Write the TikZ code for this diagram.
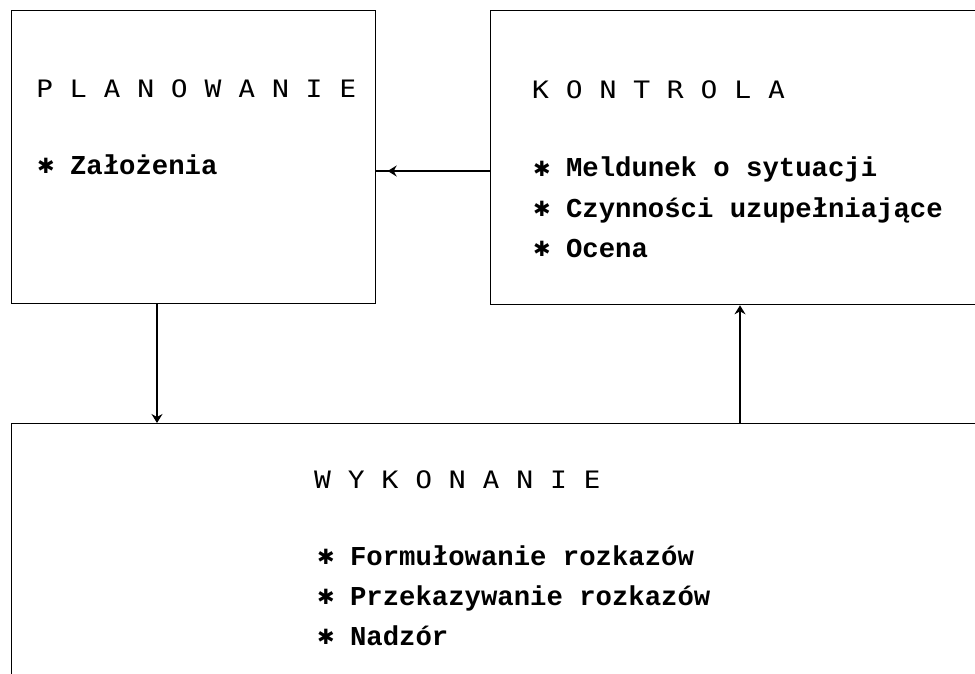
\documentclass[tikz,border=0pt]{standalone}
\usepackage{fontspec}
\usetikzlibrary{arrows.meta,decorations.markings}
\newfontfamily\itemfont{Liberation Mono}
\newfontfamily\titlefont{DejaVu Sans Mono}[FakeStretch=1.166]
\newfontfamily\starfont{DejaVu Sans}
\newcommand{\bul}{\makebox[32.8pt][l]{\raisebox{1pt}{\starfont\bfseries\fontsize{21}{21}\selectfont ✱}}}
\tikzset{
  box/.style={draw, line width=1.3pt, inner sep=0pt, anchor=north west},
  conn/.style={line width=1.2pt},
  tipstyle/.style={-{Stealth[length=9pt,width=11pt,inset=3pt]}},
  arr/.style={conn, tipstyle},
  ttl/.style={anchor=base west, inner sep=0pt, font=\titlefont\fontsize{24}{24}\selectfont},
  itm/.style={anchor=base west, inner sep=0pt, font=\itemfont\bfseries\fontsize{27.3}{28}\selectfont},
}
\begin{document}
\begin{tikzpicture}[x=1pt,y=-1pt]
\useasboundingbox (0,0) rectangle (975,674);
\clip (0,0) rectangle (975,674);
\fill[white] (0,0) rectangle (975,674);
\node[box, minimum width=364pt, minimum height=293pt] (plan) at (11,10) {};
\node[box, minimum width=500pt, minimum height=294pt] (kont) at (490,10) {};
\node[box, minimum width=990pt, minimum height=290pt] (wyk) at (11,423) {};
\coordinate (dx) at (157,0);
\coordinate (ux) at (740,0);
\coordinate (ly) at (0,171);
\draw[arr] (plan.south -| dx) -- (wyk.north -| dx);
\draw[arr] (wyk.north -| ux) -- (kont.south -| ux);
\draw[conn, postaction={decorate}, decoration={markings, mark=at position 0.9 with {\arrow{Stealth[length=9pt,width=11pt,inset=3pt]}}}] (kont.west |- ly) -- (plan.east |- ly);
\node[ttl] (tp) at (36,98) {P L A N O W A N I E};
\node[itm] (ip1) at (37,175) {\bul Założenia};
\node[ttl] (tk) at (532,99) {K O N T R O L A};
\node[itm] (ik1) at (533,177) {\bul Meldunek o sytuacji};
\node[itm] (ik2) at (533,217) {\bul Czynności uzupełniające};
\node[itm] (ik3) at (533,257) {\bul Ocena};
\node[ttl] (tw) at (314,488) {W Y K O N A N I E};
\node[itm] (iw1) at (317,565) {\bul Formułowanie rozkazów};
\node[itm] (iw2) at (317,605) {\bul Przekazywanie rozkazów};
\node[itm] (iw3) at (317,645) {\bul Nadzór};
\end{tikzpicture}
\end{document}
